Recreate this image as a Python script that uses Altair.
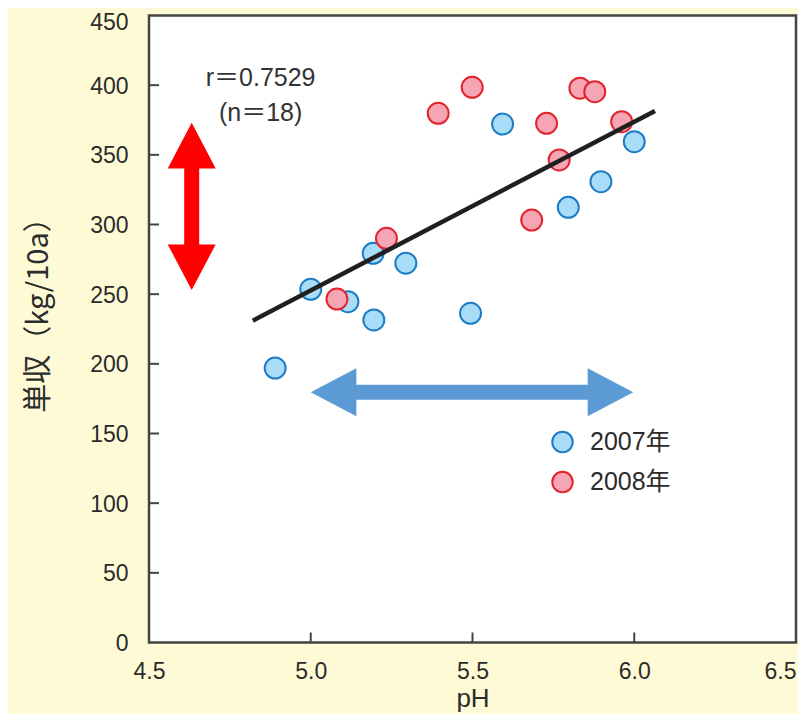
import altair as alt
import pandas as pd

# ---- data ----
years = ["2007年", "2008年"]
ph_2007 = [4.89, 5.00, 5.115, 5.195, 5.193, 5.294, 5.494, 5.593, 5.796, 5.897, 6.00]
yield_2007 = [197, 253.5, 244.6, 231.5, 279.3, 272.2, 236.3, 372.1, 312.3, 330.7, 359.4]
ph_2008 = [5.081, 5.234, 5.394, 5.499, 5.683, 5.729, 5.768, 5.832, 5.878, 5.961]
yield_2008 = [246.5, 290.1, 379.8, 398.5, 303.2, 372.6, 346.3, 397.8, 395.3, 373.8]

fit_ph = [4.821, 6.064]
fit_yield = [231.0, 381.5]

x_ticks = [4.5, 5.0, 5.5, 6.0, 6.5]
y_ticks = [0, 50, 100, 150, 200, 250, 300, 350, 400, 450]
x_inner_ticks = [5.0, 5.5, 6.0]
y_inner_ticks = [50, 100, 150, 200, 250, 300, 350, 400]

# red vertical arrow (yield range) and blue horizontal arrow (pH range)
red_arrow_ph = 4.632
red_arrow_tips = [373.0, 253.0]
red_shaft = [347.0, 279.0]
blue_arrow_yield = 179.6
blue_arrow_tips = [5.0, 5.997]
blue_shaft = [5.1, 5.9]

note_lines = ["r＝0.7529", "(n＝18)"]
note_ph = [4.845, 4.845]
note_yield = [405.0, 380.0]

# ---- styling ----
FONT = "Liberation Sans, Noto Sans CJK JP, sans-serif"
JFONT = "Noto Sans CJK JP, Liberation Sans, sans-serif"
TXT = "#2b2b2b"
fill_colors = ["#a9dcf6", "#f6a5b4"]
stroke_colors = ["#1c7dc6", "#e3232c"]
W, H = 647, 627

pts = pd.DataFrame({
    "pH": ph_2007 + ph_2008,
    "yield": yield_2007 + yield_2008,
    "year": [years[0]] * len(ph_2007) + [years[1]] * len(ph_2008),
})
fit = pd.DataFrame({"pH": fit_ph, "yield": fit_yield})

xs = alt.Scale(domain=[4.5, 6.5], nice=False, zero=False)
ys = alt.Scale(domain=[0, 450], nice=False, zero=False)

xaxis = alt.Axis(values=x_ticks, format=".1f", ticks=False, domain=False, grid=False,
                 labelPadding=18, labelFontSize=23, labelFont=FONT, labelColor=TXT,
                 labelFlush=False, labelOverlap=False,
                 labelAlign={"condition": {"test": "datum.value == 6.5", "value": "right"}, "value": "center"},
                 title="pH", titleFont=FONT, titleFontSize=26, titleFontWeight="normal",
                 titleColor=TXT, titleY=64, titleBaseline="alphabetic")
yaxis = alt.Axis(values=y_ticks, format="d", ticks=False, domain=False, grid=False,
                 labelPadding=21, labelFontSize=23, labelFont=FONT, labelColor=TXT,
                 labelFlush=False, labelOverlap=False,
                 labelOffset={"condition": {"test": "datum.value == 450", "value": 7}, "value": 1},
                 title="単収（kg/10a）", titleFont=JFONT, titleFontSize=29,
                 titleFontWeight="normal", titleColor=TXT, titleAngle=270,
                 titleX=-111, titleY=292, titleAlign="center", titleBaseline="middle")

X = alt.X("pH:Q", scale=xs, axis=xaxis)
Y = alt.Y("yield:Q", scale=ys, axis=yaxis)

legend = alt.Legend(title=None, orient="none", legendX=401, legendY=414, padding=0,
                    labelFont=FONT, labelFontSize=25, labelColor=TXT, labelOffset=15,
                    symbolSize=420, symbolStrokeWidth=2, rowPadding=11, symbolType="circle")

points = alt.Chart(pts).mark_point(shape="circle", filled=True, size=440, strokeWidth=2,
                                    opacity=1, fillOpacity=1, strokeOpacity=1).encode(
    x=X, y=Y,
    fill=alt.Fill("year:N", scale=alt.Scale(domain=years, range=fill_colors), legend=legend),
    stroke=alt.Stroke("year:N", scale=alt.Scale(domain=years, range=stroke_colors), legend=legend),
    order=alt.Order("year:N"),
)

line = alt.Chart(fit).mark_line(color="#1f1f1f", strokeWidth=4.5).encode(x=X, y=Y)

# inward ticks
yt = alt.Chart(pd.DataFrame({"yield": y_inner_ticks})).mark_rule(color="#444", strokeWidth=2).encode(
    x=alt.value(0), x2=alt.value(10), y=Y)
xt = alt.Chart(pd.DataFrame({"pH": x_inner_ticks})).mark_rule(color="#444", strokeWidth=2).encode(
    x=X, y=alt.value(H), y2=alt.value(H - 10))

PATH_UP = "M0,0 L1,1.9 L-1,1.9 Z"
PATH_DOWN = "M0,0 L1,-1.9 L-1,-1.9 Z"
PATH_LEFT = "M0,0 L1.9,-1 L1.9,1 Z"
PATH_RIGHT = "M0,0 L-1.9,-1 L-1.9,1 Z"

# red arrow
red_shaft_df = pd.DataFrame({"pH": [red_arrow_ph], "yield": [red_shaft[0]], "y2": [red_shaft[1]]})
red_shaft_l = alt.Chart(red_shaft_df).mark_rule(color="#ff0000", strokeWidth=15, strokeCap="butt").encode(
    x=X, y=Y, y2="y2:Q")
red_heads_df = pd.DataFrame({"pH": [red_arrow_ph] * 2, "yield": red_arrow_tips, "dir": ["up", "down"]})
red_heads = alt.Chart(red_heads_df).mark_point(filled=True, size=2304, color="#ff0000",
                                               opacity=1, strokeWidth=0).encode(
    x=X, y=Y,
    shape=alt.Shape("dir:N", scale=alt.Scale(domain=["up", "down"], range=[PATH_UP, PATH_DOWN]), legend=None))

# blue arrow
blue_shaft_df = pd.DataFrame({"pH": [blue_shaft[0]], "x2": [blue_shaft[1]], "yield": [blue_arrow_yield]})
blue_shaft_l = alt.Chart(blue_shaft_df).mark_rule(color="#5b9ad4", strokeWidth=15, strokeCap="butt").encode(
    x=X, x2="x2:Q", y=Y)
blue_heads_df = pd.DataFrame({"pH": blue_arrow_tips, "yield": [blue_arrow_yield] * 2, "dir": ["left", "right"]})
blue_heads = alt.Chart(blue_heads_df).mark_point(filled=True, size=2304, color="#5b9ad4",
                                                 opacity=1, strokeWidth=0).encode(
    x=X, y=Y,
    shape=alt.Shape("dir:N", scale=alt.Scale(domain=["left", "right"], range=[PATH_LEFT, PATH_RIGHT]), legend=None))

note = alt.Chart(pd.DataFrame({"pH": note_ph, "yield": note_yield, "t": note_lines})).mark_text(
    font=FONT, fontSize=25, color="#333", align="center", baseline="middle").encode(
    x=X, y=Y, text="t:N")

chart = alt.layer(
    red_shaft_l, blue_shaft_l, red_heads, blue_heads, points, line, yt, xt, note,
).resolve_scale(shape="independent").properties(
    width=W, height=H,
    autosize=alt.AutoSizeParams(type="none"),
    padding={"left": 141, "top": 7.5, "right": 2, "bottom": 71.5},
    background="#fffad6",
).configure_view(fill="white", stroke="#444", strokeWidth=2.5)

chart.save("out.html", embed_options={"renderer": "svg", "actions": False})
